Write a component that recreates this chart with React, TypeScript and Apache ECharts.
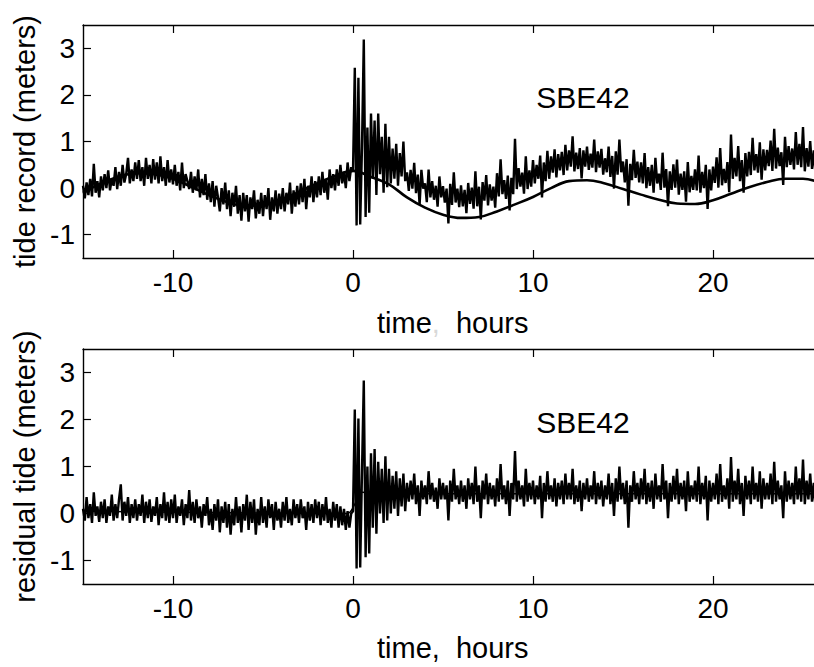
import React, { useEffect, useRef } from "react";
import * as echarts from "echarts";

// time axis of the sampled records: hours, starting at -15 with 0.1 h steps
const HOUR_START = -15;
const HOUR_STEP = 0.1;

// raw tide record (meters), one row per hour, 10 samples per row
const tideRecord: number[] = [
  0.05, -0.22, 0.12, -0.15, 0.2, -0.18, 0.52, -0.1, 0.15, -0.2,
  0.25, -0.05, 0.3, 0.0, 0.38, -0.05, 0.2, 0.05, 0.45, -0.02,
  0.35, 0.05, 0.5, 0.12, 0.3, 0.65, 0.1, 0.4, 0.15, 0.55,
  0.2, 0.6, 0.15, 0.45, 0.05, 0.65, 0.2, 0.5, 0.1, 0.62,
  0.18, 0.55, 0.1, 0.68, 0.15, 0.45, 0.05, 0.6, 0.12, 0.4,
  0.08, 0.5, 0.05, 0.35, -0.05, 0.55, 0.0, 0.3, 0.15, -0.02,
  0.35, -0.1, 0.25, -0.05, 0.4, -0.2, 0.2, -0.15, 0.3, -0.25,
  0.1, -0.3, 0.15, -0.4, 0.05, -0.2, -0.5, 0.0, -0.35, 0.12,
  -0.45, -0.05, -0.6, -0.1, -0.4, 0.05, -0.55, -0.15, -0.7, -0.1,
  -0.5, -0.15, -0.72, -0.2, -0.45, -0.05, -0.65, -0.25, -0.55, -0.1,
  -0.6, -0.15, -0.45, 0.0, -0.68, -0.2, -0.5, -0.05, -0.55, -0.12,
  -0.45, 0.0, -0.5, -0.1, -0.35, 0.12, -0.55, -0.05, -0.4, 0.05,
  -0.35, 0.1, -0.3, 0.2, -0.45, 0.05, -0.2, 0.25, -0.3, 0.15,
  -0.2, 0.25, -0.15, 0.35, -0.1, 0.2, -0.25, 0.4, 0.0, 0.3,
  -0.05, 0.4, 0.05, 0.5, 0.1, 0.35, 0.0, 0.55, 0.15, 0.45,
  0.35, 2.58, -0.8, 2.37, -0.78, 0.9, 3.19, -0.62, 1.3, -0.53,
  1.6, 0.2, 1.45, -0.15, 1.6, 0.3, 1.1, -0.1, 1.38, 0.02,
  1.1, 0.1, 0.85, 0.2, 0.95, 0.05, 0.75, 0.25, 1.0, 0.15,
  0.34, -0.06, 0.39, -0.01, 0.54, -0.11, 0.29, -0.36, 0.39, -0.01,
  0.1, -0.3, 0.4, -0.2, 0.15, -0.25, 0.05, -0.4, 0.25, -0.2,
  0.04, -0.31, -0.01, -0.76, 0.09, -0.36, 0.34, -0.31, -0.01, -0.41,
  0.06, -0.39, -0.04, -0.54, 0.11, -0.34, 0.01, -0.44, 0.36, -0.39,
  0.03, -0.67, 0.13, -0.27, 0.28, -0.37, 0.08, -0.27, 0.03, -0.42,
  0.32, -0.18, 0.62, -0.13, 0.17, -0.23, 0.27, -0.48, 0.22, -0.13,
  1.06, -0.02, 0.43, 0.03, 0.33, -0.12, 0.68, -0.02, 0.38, 0.03,
  0.6, 0.1, 0.5, 0.2, 0.7, -0.2, 0.55, 0.15, 0.8, 0.2,
  0.68, 0.33, 0.83, 0.23, 0.73, 0.38, 0.78, 0.28, 0.93, 0.38,
  0.81, 0.46, 1.11, 0.36, 0.76, 0.41, 0.86, 0.21, 0.81, 0.46,
  0.89, 0.39, 0.74, 0.44, 1.04, 0.34, 0.79, 0.44, 0.84, 0.29,
  0.64, 0.34, 0.89, 0.24, 0.69, -0.01, 0.79, 0.29, 1.04, 0.34,
  0.57, 0.12, 0.62, -0.38, 0.52, 0.17, 0.82, 0.22, 0.57, 0.12,
  0.55, 0.1, 0.75, 0.0, 0.45, 0.05, 0.5, -0.1, 0.65, 0.1,
  0.31, -0.04, 0.76, 0.01, 0.41, -0.39, 0.36, -0.04, 0.51, 0.01,
  0.61, -0.14, 0.31, -0.04, 0.36, -0.29, 0.56, -0.09, 0.26, -0.04,
  0.4, -0.05, 0.7, -0.1, 0.35, 0.0, 0.5, -0.45, 0.4, -0.05,
  0.46, 0.11, 0.66, 0.01, 0.86, 0.06, 0.41, 0.11, 0.56, -0.09,
  1.15, 0.2, 0.65, 0.25, 0.9, 0.15, 0.6, -0.1, 0.75, 0.25,
  0.78, 0.28, 1.08, 0.38, 0.73, 0.33, 0.98, 0.18, 0.83, 0.38,
  0.82, 0.47, 1.02, 0.37, 1.27, 0.42, 0.87, 0.47, 0.77, 0.07,
  1.1, 0.45, 0.9, 0.5, 0.85, 0.4, 1.2, 0.5, 0.95, 0.45,
  1.31, 0.36, 0.86, 0.46, 1.01, 0.41, 0.81, 0.26, 1.11, 0.46,
  0.77, 0.32, 0.97, 0.37, 0.72, 0.27, 0.87, 0.32, 0.77, 0.37,
  0.65,
];

// residual tide (meters), same sampling
const residualTide: number[] = [
  0.1, -0.15, 0.35, -0.1, 0.2, -0.2, 0.45, -0.05, 0.15, -0.18,
  0.25, -0.1, 0.3, -0.2, 0.15, -0.05, 0.4, -0.15, 0.2, -0.1,
  0.3, 0.62, -0.15, 0.25, -0.05, 0.35, -0.2, 0.2, -0.1, 0.3,
  -0.15, 0.2, -0.05, 0.4, -0.2, 0.25, -0.1, 0.3, -0.18, 0.15,
  -0.05, 0.35, -0.25, 0.2, -0.1, 0.45, -0.15, 0.25, -0.2, 0.3,
  -0.1, 0.4, -0.2, 0.15, -0.05, 0.3, -0.25, 0.2, -0.1, 0.5,
  -0.15, 0.25, -0.2, 0.3, -0.1, 0.15, -0.3, 0.2, -0.05, 0.35,
  -0.25, 0.1, -0.35, 0.2, -0.15, 0.3, -0.4, 0.15, -0.2, 0.25,
  -0.3, 0.2, -0.45, 0.1, -0.25, 0.35, -0.2, 0.15, -0.4, 0.2,
  -0.15, 0.4, -0.35, 0.25, -0.2, 0.3, -0.45, 0.1, -0.25, 0.35,
  -0.2, 0.15, -0.3, 0.3, -0.1, 0.2, -0.35, 0.25, -0.15, 0.1,
  -0.3, 0.25, -0.15, 0.35, -0.2, 0.1, -0.25, 0.3, -0.1, 0.2,
  -0.2, 0.3, -0.1, 0.15, -0.35, 0.25, -0.15, 0.2, -0.2, 0.3,
  -0.1, 0.25, -0.25, 0.2, -0.15, 0.35, -0.2, 0.1, -0.3, 0.25,
  -0.15, 0.2, -0.3, 0.15, -0.25, 0.1, -0.35, 0.05, -0.3, 0.0,
  0.05, 2.21, -1.17, 2.02, -1.15, 0.9, 2.83, -0.93, 1.0, -0.85,
  1.28, -0.3, 1.37, -0.43, 1.1, 0.0, 0.95, -0.2, 1.22, -0.15,
  0.95, 0.0, 0.8, 0.1, 0.9, -0.05, 0.75, 0.15, 0.85, 0.05,
  0.65, 0.25, 0.7, 0.3, 0.85, 0.2, 0.6, -0.05, 0.7, 0.3,
  0.6, 0.2, 0.9, 0.3, 0.65, 0.25, 0.55, 0.1, 0.75, 0.3,
  0.65, 0.3, 0.6, -0.15, 0.7, 0.25, 0.95, 0.3, 0.6, 0.2,
  0.7, 0.25, 0.6, 0.1, 0.75, 0.3, 0.65, 0.2, 1.0, 0.25,
  0.6, -0.1, 0.7, 0.3, 0.85, 0.2, 0.65, 0.3, 0.6, 0.15,
  0.75, 0.25, 1.05, 0.3, 0.6, 0.2, 0.7, -0.05, 0.65, 0.3,
  1.33, 0.25, 0.7, 0.3, 0.6, 0.15, 0.95, 0.25, 0.65, 0.3,
  0.7, 0.2, 0.6, 0.3, 0.8, -0.1, 0.65, 0.25, 0.9, 0.3,
  0.6, 0.25, 0.75, 0.15, 0.65, 0.3, 0.7, 0.2, 0.85, 0.3,
  0.65, 0.3, 0.95, 0.2, 0.6, 0.25, 0.7, 0.05, 0.65, 0.3,
  0.75, 0.25, 0.6, 0.3, 0.9, 0.2, 0.65, 0.3, 0.7, 0.15,
  0.6, 0.3, 0.85, 0.2, 0.65, -0.05, 0.75, 0.25, 1.0, 0.3,
  0.65, 0.2, 0.7, -0.3, 0.6, 0.25, 0.9, 0.3, 0.65, 0.2,
  0.75, 0.3, 0.95, 0.2, 0.65, 0.25, 0.7, 0.1, 0.85, 0.3,
  0.6, 0.25, 1.05, 0.3, 0.7, -0.1, 0.65, 0.25, 0.8, 0.3,
  0.95, 0.2, 0.65, 0.3, 0.7, 0.05, 0.9, 0.25, 0.6, 0.3,
  0.7, 0.25, 1.0, 0.2, 0.65, 0.3, 0.8, -0.15, 0.7, 0.25,
  0.65, 0.3, 0.85, 0.2, 1.05, 0.25, 0.6, 0.3, 0.75, 0.1,
  1.2, 0.25, 0.7, 0.3, 0.95, 0.2, 0.65, -0.05, 0.8, 0.3,
  0.7, 0.2, 1.0, 0.3, 0.65, 0.25, 0.9, 0.1, 0.75, 0.3,
  0.65, 0.3, 0.85, 0.2, 1.1, 0.25, 0.7, 0.3, 0.6, -0.1,
  0.9, 0.25, 0.7, 0.3, 0.65, 0.2, 1.0, 0.3, 0.75, 0.25,
  1.15, 0.2, 0.7, 0.3, 0.85, 0.25, 0.65, 0.1, 0.95, 0.3,
  0.7, 0.25, 0.9, 0.3, 0.65, 0.2, 0.8, 0.25, 0.7, 0.3,
  0.6,
];

// predicted (smooth) tide, hourly
const tideHours: number[] = [
  -15, -14, -13, -12, -11, -10, -9, -8, -7, -6, -5, -4, -3, -2, -1,
  0, 1, 2, 3, 4, 5, 6, 7, 8, 9, 10, 11, 12, 13, 14, 15, 16, 17, 18, 19, 20,
  21, 22, 23, 24, 25, 26, 27,
];
const predictedTide: number[] = [
  -0.1, 0.1, 0.25, 0.32, 0.3, 0.2, 0.03, -0.15, -0.3, -0.38, -0.36, -0.25, -0.08, 0.1, 0.26,
  0.37, 0.24, 0.08, -0.2, -0.42, -0.57, -0.64, -0.62, -0.5, -0.35, -0.19, 0.0, 0.15, 0.17, 0.1,
  -0.02, -0.14, -0.25, -0.33, -0.34, -0.26, -0.12, 0.02, 0.13, 0.2, 0.2, 0.12, 0.02,
];

// smoothed residual level
const residualTrendHours: number[] = [-15, -0.3, 0.1, 0.5, 2, 27];
const residualTrend: number[] = [0.05, 0.0, 0.2, 0.45, 0.42, 0.42];

const xTicks: number[] = [-10, 0, 10, 20];
const yTicks: number[] = [-1, 0, 1, 2, 3];
const panelName = "SBE42";
const yNames: string[] = ["tide record (meters)", "residual tide (meters)"];

const FONT = "'Liberation Sans', Arial, Helvetica, sans-serif";

function toPairs(values: number[]): number[][] {
  return values.map((v, i) => [Math.round((HOUR_START + i * HOUR_STEP) * 100) / 100, v]);
}

export default function App() {
  const ref = useRef<HTMLDivElement>(null);

  useEffect(() => {
    if (!ref.current) return;
    const chart = echarts.init(ref.current, undefined, { renderer: "svg" });

    const axisLineStyle = { color: "#000", width: 1.4 };
    // the plot boxes run past the right edge of the visible page (clipped)
    const grids = [
      { left: 83, top: 25, height: 233, width: 810 },
      { left: 83, top: 349, height: 235, width: 810 },
    ];

    const xAxes: any[] = [];
    const yAxes: any[] = [];
    grids.forEach((_, gi) => {
      const base = {
        type: "value",
        gridIndex: gi,
        min: -15,
        max: 30,
        splitLine: { show: false },
        axisLine: { show: true, onZero: false, lineStyle: axisLineStyle },
        axisTick: {
          show: true,
          inside: true,
          length: 8,
          customValues: xTicks,
          lineStyle: { color: "#000", width: 1.2 },
        },
      };
      xAxes.push({
        ...base,
        position: "bottom",
        axisLabel: {
          show: true,
          customValues: xTicks,
          fontSize: 28,
          color: "#000",
          fontFamily: FONT,
          margin: 10,
        },
      });
      xAxes.push({
        ...base,
        position: "top",
        axisLabel: { show: false },
      });
      yAxes.push({
        type: "value",
        gridIndex: gi,
        min: -1.5,
        max: 3.5,
        position: "left",
        splitLine: { show: false },
        axisLine: { show: true, onZero: false, lineStyle: axisLineStyle },
        axisTick: {
          show: true,
          inside: true,
          length: 8,
          customValues: yTicks,
          lineStyle: { color: "#000", width: 1.2 },
        },
        axisLabel: {
          show: true,
          customValues: yTicks,
          fontSize: 28,
          color: "#000",
          fontFamily: FONT,
          margin: 8,
        },
        name: yNames[gi],
        nameLocation: "middle",
        nameGap: 40,
        nameTextStyle: { fontSize: 29, color: "#000", fontFamily: FONT },
      });
    });

    const lineBase = {
      type: "line",
      showSymbol: false,
      symbol: "none",
      silent: true,
      clip: true,
    };

    const option: any = {
      animation: false,
      backgroundColor: "#fff",
      grid: grids,
      xAxis: xAxes,
      yAxis: yAxes,
      series: [
        {
          ...lineBase,
          xAxisIndex: 0,
          yAxisIndex: 0,
          data: toPairs(tideRecord),
          lineStyle: { color: "#000", width: 2.4 },
        },
        {
          ...lineBase,
          xAxisIndex: 0,
          yAxisIndex: 0,
          smooth: 0.4,
          data: tideHours.map((h, i) => [h, predictedTide[i]]),
          lineStyle: { color: "#000", width: 2.6 },
        },
        {
          ...lineBase,
          xAxisIndex: 2,
          yAxisIndex: 1,
          data: toPairs(residualTide),
          lineStyle: { color: "#000", width: 2.4 },
        },
        {
          ...lineBase,
          xAxisIndex: 2,
          yAxisIndex: 1,
          smooth: 0.3,
          data: residualTrendHours.map((h, i) => [h, residualTrend[i]]),
          lineStyle: { color: "#000", width: 1.5 },
        },
      ],
      graphic: [
        {
          type: "text",
          x: 583,
          y: 97,
          style: {
            text: panelName,
            fontSize: 30,
            fontFamily: FONT,
            fill: "#000",
            align: "center",
            verticalAlign: "middle",
          },
        },
        {
          type: "text",
          x: 583,
          y: 422,
          style: {
            text: panelName,
            fontSize: 30,
            fontFamily: FONT,
            fill: "#000",
            align: "center",
            verticalAlign: "middle",
          },
        },
        {
          type: "text",
          x: 377,
          y: 323,
          style: {
            text: "{a|time}{c|,}{a|  hours}",
            fontSize: 29,
            fontFamily: FONT,
            fill: "#000",
            align: "left",
            verticalAlign: "middle",
            rich: {
              a: { fontSize: 29, fontFamily: FONT, fill: "#000" },
              c: { fontSize: 29, fontFamily: FONT, fill: "#d8d8d8" },
            },
          },
        },
        {
          type: "text",
          x: 377,
          y: 648,
          style: {
            text: "time,  hours",
            fontSize: 29,
            fontFamily: FONT,
            fill: "#000",
            align: "left",
            verticalAlign: "middle",
          },
        },
      ],
    };

    chart.setOption(option);
    return () => chart.dispose();
  }, []);

  return (
    <div
      style={{ position: "fixed", left: 0, top: 0, width: 814, height: 667, overflow: "hidden" }}
    >
      <div ref={ref} style={{ width: 900, height: 667 }} />
    </div>
  );
}
